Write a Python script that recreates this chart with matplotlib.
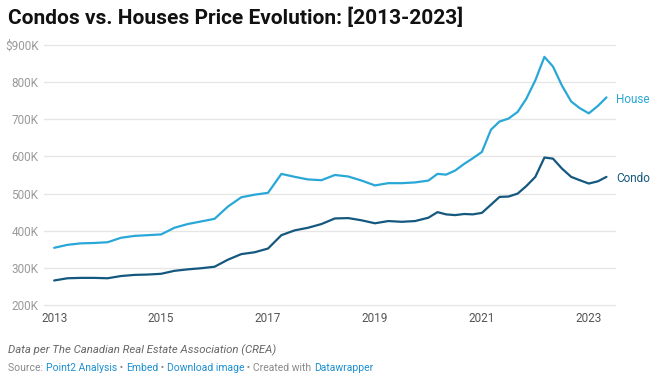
import matplotlib
matplotlib.use('Agg')

import matplotlib.pyplot as plt

# Data (values in $K, x in fractional years)
dates = [2013.00, 2013.25, 2013.50, 2013.75,
         2014.00, 2014.25, 2014.50, 2014.75,
         2015.00, 2015.25, 2015.50, 2015.75,
         2016.00, 2016.25, 2016.50, 2016.75,
         2017.00, 2017.25, 2017.50, 2017.75,
         2018.00, 2018.25, 2018.50, 2018.75,
         2019.00, 2019.25, 2019.50, 2019.75,
         2020.00, 2020.17, 2020.33, 2020.50, 2020.67, 2020.83,
         2021.00, 2021.17, 2021.33, 2021.50, 2021.67, 2021.83,
         2022.00, 2022.17, 2022.33, 2022.50, 2022.67, 2022.83,
         2023.00, 2023.17, 2023.33]

house = [354, 362, 366, 367,
         369, 381, 386, 388,
         390, 408, 418, 425,
         432, 465, 490, 497,
         502, 553, 545, 538,
         536, 550, 546, 535,
         522, 528, 528, 530,
         535, 553, 551, 562, 580, 595,
         612, 672, 694, 702, 720, 755,
         805, 868, 842, 790, 748, 730,
         716, 736, 759]

condo = [266, 272, 273, 273,
         272, 278, 281, 282,
         284, 292, 296, 299,
         303, 322, 337, 342,
         352, 388, 401, 408,
         418, 433, 434, 428,
         420, 426, 424, 426,
         435, 450, 444, 442, 445, 444,
         448, 470, 491, 492, 500, 520,
         545, 597, 594, 567, 545, 536,
         527, 533, 545]

yticks = [200, 300, 400, 500, 600, 700, 800, 900]
ytick_labels = ['200K', '300K', '400K', '500K', '600K', '700K', '800K', '$900K']
xticks = [2013, 2015, 2017, 2019, 2021, 2023]

HOUSE_C = '#29a8d7'
CONDO_C = '#15587f'
LINK_C = '#1d8fd1'
GREY_C = '#8a8a8a'

plt.rcParams['font.family'] = ['Roboto', 'DejaVu Sans']

fig = plt.figure(figsize=(6.6, 3.82), dpi=100)
ax = fig.add_axes([44/660, 1 - 305/382, (615 - 44)/660, 260/382])

ax.plot(dates, house, color=HOUSE_C, lw=1.6, solid_capstyle='round',
        solid_joinstyle='round', zorder=3)
ax.plot(dates, condo, color=CONDO_C, lw=1.6, solid_capstyle='round',
        solid_joinstyle='round', zorder=3)

ax.set_xlim(2012.81, 2023.49)
ax.set_ylim(200, 900)
for y in yticks:
    ax.axhline(y, color='#e6e6e6', lw=1, zorder=1, clip_on=False)

ax.set_yticks(yticks)
ax.set_yticklabels(ytick_labels)
ax.set_xticks(xticks)
ax.set_xticklabels([str(x) for x in xticks])
ax.tick_params(axis='y', length=0, pad=4, labelsize=8.5, labelcolor='#9a9a9a')
ax.tick_params(axis='x', length=0, pad=5, labelsize=8.5, labelcolor='#555555')
for s in ax.spines.values():
    s.set_visible(False)

# Series labels at the line ends
ax.text(dates[-1] + 0.18, house[-1] - 5, 'House', color=HOUSE_C, fontsize=8.5,
        va='center', ha='left', clip_on=False)
ax.text(dates[-1] + 0.18, condo[-1] - 5, 'Condo', color=CONDO_C, fontsize=8.5,
        va='center', ha='left', clip_on=False)

fig.text(8/660, 1 - 18/382, 'Condos vs. Houses Price Evolution: [2013-2023]',
         fontsize=15, fontweight='bold', color='#111111', va='center', ha='left')

fig.text(8/660, 1 - 350/382, 'Data per The Canadian Real Estate Association (CREA)',
         fontsize=8.2, style='italic', color='#666666', va='center', ha='left')

# Source line in several colours, pieces placed one after another
parts = [('Source: ', GREY_C), ('Point2 Analysis', LINK_C), (' • ', GREY_C),
         ('Embed', LINK_C), (' • ', GREY_C), ('Download image', LINK_C),
         (' • Created with ', GREY_C), ('Datawrapper', LINK_C)]

fig.canvas.draw()
renderer = fig.canvas.get_renderer()
x_px = 8
for txt, col in parts:
    t = fig.text(x_px/660, 1 - 371/382, txt, fontsize=7.5, color=col,
                 va='baseline', ha='left')
    x_px += t.get_window_extent(renderer=renderer).width

plt.savefig('out.png', dpi=100)
plt.close()
